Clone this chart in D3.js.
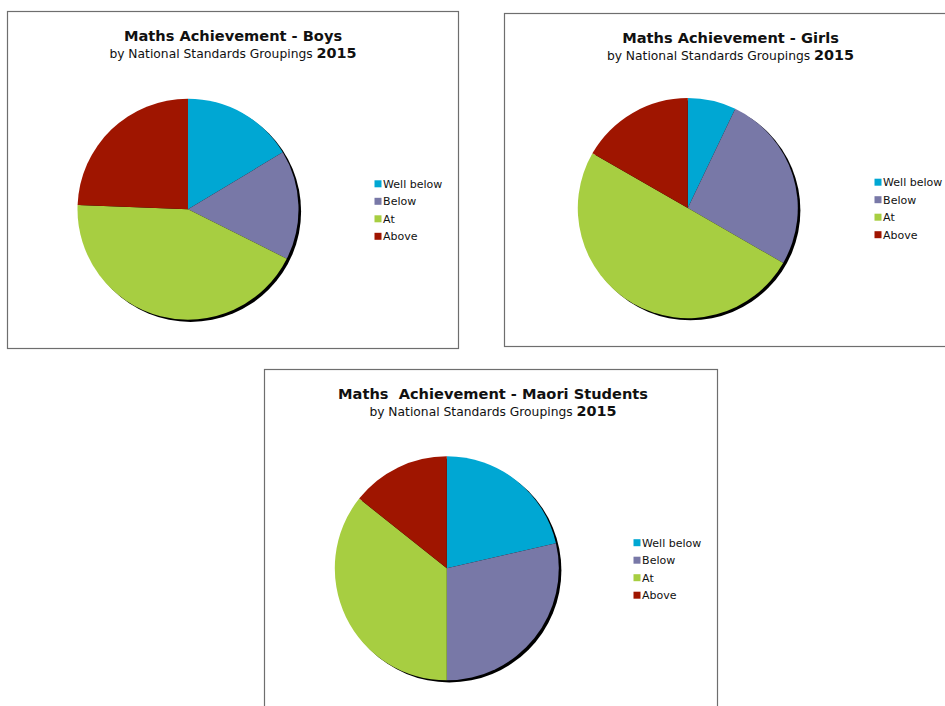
<!DOCTYPE html>
<html>
<head>
<meta charset="utf-8">
<script src="https://cdn.jsdelivr.net/npm/d3@7"></script>
<style>
  html, body { margin: 0; padding: 0; background: #fff; }
  svg { display: block; font-family: "DejaVu Sans", Verdana, sans-serif; }
</style>
</head>
<body>
<svg id="chart" width="945" height="706"></svg>
<script>
// Achievement groupings (legend order) and slice colours
const categories = ["Well below", "Below", "At", "Above"];
const colors = ["#00a7d3", "#7878a7", "#a7ce41", "#9f1500"];

// Share of students in each grouping (%)
const boysValues  = [16.4, 16.0, 43.2, 24.4];
const girlsValues = [7.1, 26.2, 50.0, 16.7];
const maoriValues = [21.4, 28.6, 35.7, 14.3];

const chartTitles = [
  "Maths Achievement - Boys",
  "Maths Achievement - Girls",
  "Maths  Achievement - Maori Students"
];
const subtitleText = "by National Standards Groupings ";
const yearLabel = "2015";

// Panel frames, pie centres and legend anchors
const panels = [
  { title: chartTitles[0], values: boysValues,
    x: 7.5, y: 11.5, w: 451, h: 337,
    cx: 180.5, cy: 197.7, r: 110.5, titleDx: 0,
    lx: 367, ly: 172.3 },
  { title: chartTitles[1], values: girlsValues,
    x: 504.5, y: 13.5, w: 452, h: 333,
    cx: 183.3, cy: 194.6, r: 110, titleDx: 0,
    lx: 370, ly: 168.7 },
  { title: chartTitles[2], values: maoriValues,
    x: 264.5, y: 369.5, w: 453, h: 345,
    cx: 182.3, cy: 198.8, r: 112, titleDx: 2,
    lx: 369, ly: 173.2 }
];

const svg = d3.select("#chart");
const color = d3.scaleOrdinal().domain(categories).range(colors);
const pie = d3.pie().sort(null).value(d => d.value);
const legendStep = 17.5;

panels.forEach(p => {
  const g = svg.append("g").attr("transform", `translate(${p.x},${p.y})`);

  g.append("rect")
    .attr("width", p.w).attr("height", p.h)
    .attr("fill", "#fff")
    .attr("stroke", "#6e6e6e").attr("stroke-width", 1.2);

  // Title block
  g.append("text")
    .attr("x", p.w / 2 + p.titleDx).attr("y", 29)
    .attr("text-anchor", "middle")
    .attr("font-size", 14.6).attr("font-weight", "bold")
    .attr("fill", "#111")
    .style("white-space", "pre")
    .text(p.title);

  const sub = g.append("text")
    .attr("x", p.w / 2 + p.titleDx).attr("y", 46)
    .attr("text-anchor", "middle")
    .attr("fill", "#111")
    .style("white-space", "pre");
  sub.append("tspan").attr("font-size", 12.3).text(subtitleText);
  sub.append("tspan").attr("font-size", 14.4).attr("font-weight", "bold").text(yearLabel);

  // Pie with its drop shadow
  const data = categories.map((c, i) => ({ category: c, value: p.values[i] }));
  const arc = d3.arc().innerRadius(0).outerRadius(p.r);
  const pg = g.append("g").attr("transform", `translate(${p.cx},${p.cy})`);

  pg.append("circle")
    .attr("cx", 2.6).attr("cy", 2.2).attr("r", p.r)
    .attr("fill", "#000");

  pg.selectAll("path.slice")
    .data(pie(data))
    .join("path")
    .attr("class", "slice")
    .attr("d", arc)
    .attr("fill", d => color(d.data.category));

  // Legend
  const lg = g.append("g").attr("transform", `translate(${p.lx},${p.ly})`);
  const items = lg.selectAll("g.item")
    .data(categories)
    .join("g")
    .attr("class", "item")
    .attr("transform", (d, i) => `translate(0,${i * legendStep})`);
  items.append("rect")
    .attr("x", 0).attr("y", -3.5)
    .attr("width", 7).attr("height", 7)
    .attr("fill", d => color(d));
  items.append("text")
    .attr("x", 8.6).attr("y", 0)
    .attr("dy", "0.36em")
    .attr("font-size", 11)
    .attr("fill", "#111")
    .text(d => d);
});
</script>
</body>
</html>
